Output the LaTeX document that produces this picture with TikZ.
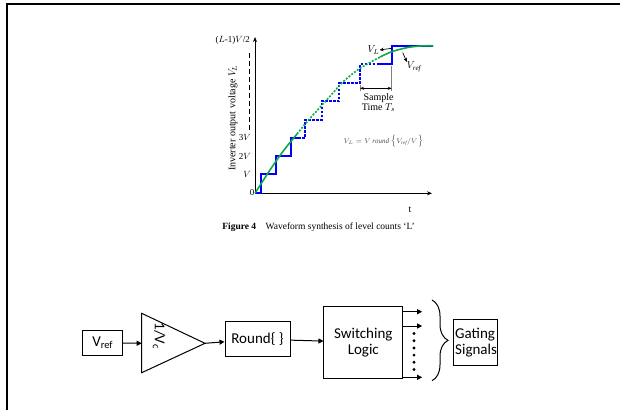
\documentclass[tikz,border=0pt]{standalone}
\usepackage{fontspec}
\setmainfont{Liberation Serif}
\newfontfamily\calibri{Carlito}
\usetikzlibrary{arrows.meta,decorations.pathreplacing,calc}
\definecolor{stepblue}{RGB}{0,0,255}
\definecolor{refgreen}{RGB}{10,170,70}
\tikzset{
  axis/.style={line width=0.8pt,-{Stealth[length=5pt,width=4pt]}},
  stairs/.style={draw=stepblue,line width=1.8pt,line join=miter},
  stairsd/.style={draw=stepblue,line width=1.8pt,dash pattern=on 2.5pt off 1.5pt},
  curve/.style={draw=refgreen,line width=1.6pt},
  curved/.style={draw=refgreen,line width=1.6pt,dash pattern=on 2pt off 1.5pt},
  blk/.style={draw,line width=1pt,font=\calibri\fontsize{15}{16}\selectfont,inner sep=2pt,align=center},
  arr/.style={line width=1pt,-{Triangle[length=5pt,width=5pt]}},
  lbl/.style={font=\fontsize{9}{10}\selectfont,inner sep=0pt}
}
\begin{document}
\begin{tikzpicture}[x=1pt,y=-1pt]
\useasboundingbox (0,0) rectangle (620,410);
% frame
\draw[line width=2pt] (6,3.5) -- (620,3.5);
\draw[line width=2pt] (6.5,3) -- (6.5,410);

% ---- chart ----
\draw[axis] (255,193.3) -- (255,37);
\draw[axis] (255,193.3) -- (432,193.3);
\draw[line width=0.6pt,dash pattern=on 5pt off 3pt] (249,53) -- (249,132);
\node[lbl,rotate=90] (ylab) at (233,118) {\fontsize{10}{11}\selectfont Inverter output voltage $V_L$};
\node[lbl,anchor=east] (tL) at (250,40) {($L$-1)$V$/2};
\node[lbl,anchor=east] (t3) at (251,137.5) {3$V$};
\node[lbl,anchor=east] (t2) at (251,156) {2$V$};
\node[lbl,anchor=east] (t1) at (251,174) {$V$};
\node[lbl] (t0) at (252,193) {0};
\node[lbl,font=\fontsize{10}{11}\selectfont] (tt) at (410,210) {t};

% staircase
\draw[stairs] (255,193.3) -- (261,193.3) -- (261,174.3) -- (276,174.3) -- (276,155.7) -- (290.7,155.7) -- (290.7,137.7) -- (298,137.7);
\draw[stairsd] (298,137.7) -- (305,137.7) -- (305,120) -- (321.7,120) -- (321.7,101) -- (339.3,101) -- (339.3,82.7) -- (360,82.7) -- (360,64.3) -- (377,64.3);
\draw[stairs] (377,64.3) -- (391.7,64.3) -- (391.7,45.7) -- (433.3,45.7);

% reference curve
\draw[curve] plot[smooth] coordinates {(255,193.3) (270,170) (283.3,151) (297,134)};
\draw[curved] plot[smooth] coordinates {(297,134) (310,118.3) (326.7,100) (343.3,81.7) (360,68.3) (380,57)};
\draw[curve] plot[smooth] coordinates {(380,57) (391.7,51.7) (406.7,47.7) (420,46) (433.3,45.7)};

% annotations
\node[lbl,font=\fontsize{10}{11}\selectfont] (vl) at (373.5,50) {$V_L$};
\draw[line width=0.7pt,-{Stealth[length=4pt,width=3.5pt]}] (391.7,48.3) -- (vl.east);
\node[lbl,font=\fontsize{10}{11}\selectfont] (vr) at (414,67) {$V_{\mathit{ref}}$};
\draw[line width=0.7pt,-{Stealth[length=4pt,width=3.5pt]}] (402.7,52.5) -- (vr.north west);
\draw[gray,line width=0.5pt] (391.7,66) -- (391.7,91);
\draw[gray,line width=0.5pt] (360,85) -- (360,91);
\draw[line width=0.5pt,{Stealth[length=4pt,width=3pt]}-{Stealth[length=4pt,width=3pt]}] (360,88.3) -- (391.7,88.3);
\node[lbl,font=\fontsize{10}{11}\selectfont,align=center] (st) at (378.5,102.5) {Sample\\[-1pt]Time $T_s$};
\node[lbl,text=black!70,font=\fontsize{7}{8}\selectfont] (form) at (383.5,141.5) {$V_L = V\ \mathit{round}\left\{V_{\mathit{ref}}/V\right\}$};

% caption
\node[font=\fontsize{9.5}{11}\selectfont,inner sep=0pt] (cap) at (318.5,227) {\textbf{Figure 4}\quad Waveform synthesis of level counts ‘L’};

% ---- block diagram ----
\node[blk,minimum width=40pt,minimum height=25pt] (vref) at (102.7,342.7) {V\textsubscript{ref}};
\coordinate (triL) at (141.7,343.3);
\coordinate (triR) at (205,343.3);
\draw[line width=1pt] (141.7,313.3) -- (triR) -- (141.7,372.7) -- cycle;
\node[font=\calibri\fontsize{15}{16}\selectfont,rotate=-90,inner sep=0pt] (gain) at (159,336) {1/V\textsubscript{c}};
\node[blk,minimum width=65pt,minimum height=35pt] (round) at (257.5,339.2) {Round\{ \}};
\node[blk,minimum width=78.7pt,minimum height=72.3pt,align=center] (sw) at (363.3,342.2) {Switching\\Logic};
\node[draw,line width=1pt,minimum width=44.4pt,minimum height=45.7pt,inner sep=0pt] (gs) at (475.5,342.2) {};
\node[font=\calibri\fontsize{15}{16}\selectfont,align=left,inner sep=0pt,anchor=west] (gst) at (455,342.2) {Gating\\Signals};
\draw[arr] (vref) -- (triL);
\draw[arr] (triR) -- (round);
\draw[arr] (round) -- (sw);
\foreach \yy in {311.7,326,377.3} {
  \draw[arr] (sw.east |- 0,\yy) -- ++(19,0);
}
\foreach \k in {0,...,5} {
  \fill (414,333.5+7.2*\k) circle (1.6pt);
}
\draw[line width=1pt,decorate,decoration={brace,amplitude=16pt}] (432,300) -- (432,380.7);
\end{tikzpicture}
\end{document}
